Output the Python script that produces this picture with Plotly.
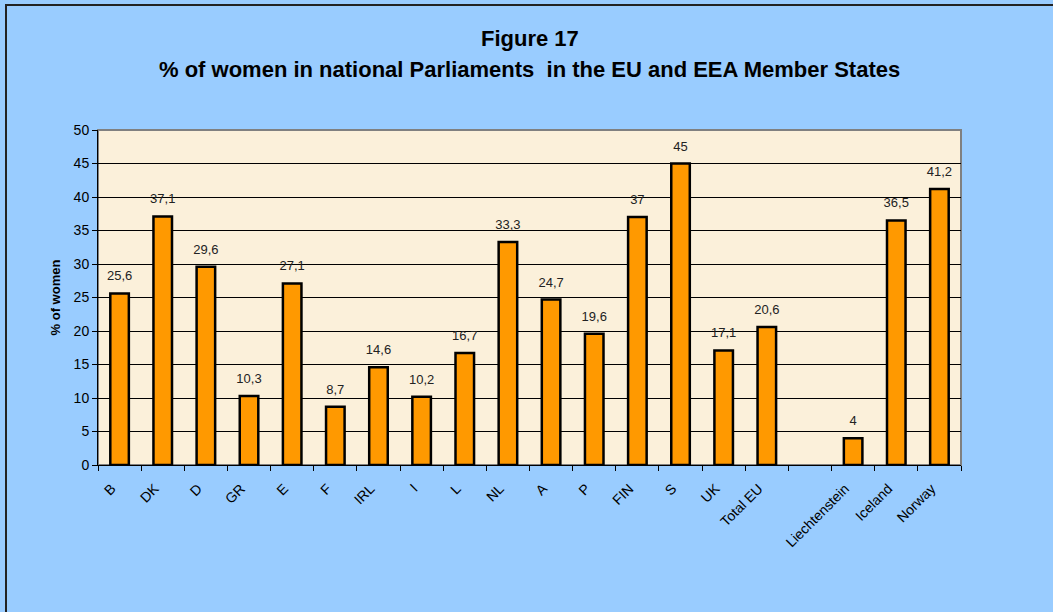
import plotly.graph_objects as go

categories = ["B", "DK", "D", "GR", "E", "F", "IRL", "I", "L", "NL", "A", "P",
              "FIN", "S", "UK", "Total EU", " ", "Liechtenstein", "Iceland", "Norway"]
values = [25.6, 37.1, 29.6, 10.3, 27.1, 8.7, 14.6, 10.2, 16.7, 33.3, 24.7, 19.6,
          37, 45, 17.1, 20.6, None, 4, 36.5, 41.2]
labels = ["" if v is None else (str(v).replace(".", ",") if v != int(v) else str(int(v))) for v in values]
y_ticks = [0, 5, 10, 15, 20, 25, 30, 35, 40, 45, 50]

FONT = "Arial, Liberation Sans, sans-serif"

fig = go.Figure()
fig.add_trace(go.Bar(
    x=categories, y=values,
    marker=dict(color="#FF9900", line=dict(color="#000000", width=2.5)),
    width=0.43, hoverinfo="skip",
))
fig.add_trace(go.Scatter(
    x=categories, y=values, text=labels, mode="markers+text",
    textposition="top center",
    marker=dict(size=14, opacity=0),
    textfont=dict(family=FONT, size=13, color="#222222"),
    cliponaxis=False, hoverinfo="skip",
))

fig.update_layout(
    width=1053, height=612,
    paper_bgcolor="#99CCFF", plot_bgcolor="#FBF0DA",
    margin=dict(l=98, r=92, t=130, b=147),
    showlegend=False,
    font=dict(family=FONT, size=14, color="#000000"),
)
fig.add_annotation(text="<b>Figure 17</b>", xref="paper", yref="paper", x=0.5, y=1,
                   yshift=92, showarrow=False, xanchor="center", yanchor="middle",
                   font=dict(size=22, family=FONT, color="#000000"))
fig.add_annotation(text="<b>% of women in national Parliaments  in the EU and EEA Member States</b>",
                   xref="paper", yref="paper", x=0.5, y=1, yshift=61, showarrow=False,
                   xanchor="center", yanchor="middle",
                   font=dict(size=22, family=FONT, color="#000000"))

fig.update_xaxes(
    type="category", range=[-0.5, len(categories) - 0.5], autorange=False,
    tickangle=-45, ticks="outside", tickson="boundaries",
    ticklen=5, tickcolor="#000000", showline=True, linecolor="#000000", linewidth=1,
    showgrid=False, tickfont=dict(size=14, color="#000000"),
    ticklabelstandoff=9, ticklabelshift=-8,
)
fig.update_yaxes(
    range=[0, 50], tickvals=y_ticks, ticks="outside", ticklen=5, tickcolor="#000000",
    showline=True, linecolor="#000000", linewidth=1, gridcolor="#000000", gridwidth=1,
    zeroline=False, tickfont=dict(size=14, color="#000000"),
    title=dict(text="<b>% of women</b>", font=dict(size=13, color="#000000"), standoff=10),
)

# plot-area frame (gray top/right)
fig.add_shape(type="rect", xref="paper", yref="paper", x0=0, y0=0, x1=1, y1=1,
              line=dict(color="#808080", width=2), layer="below")
# outer border
fig.add_shape(type="rect", xref="paper", yref="paper", x0=-92/863, y0=-160/335,
              x1=1 + 110/863, y1=1 + 125/335, line=dict(color="#222222", width=2))

fig.write_html("out.html", config={"displayModeBar": False},
               post_script="document.body.style.margin='0px';")
